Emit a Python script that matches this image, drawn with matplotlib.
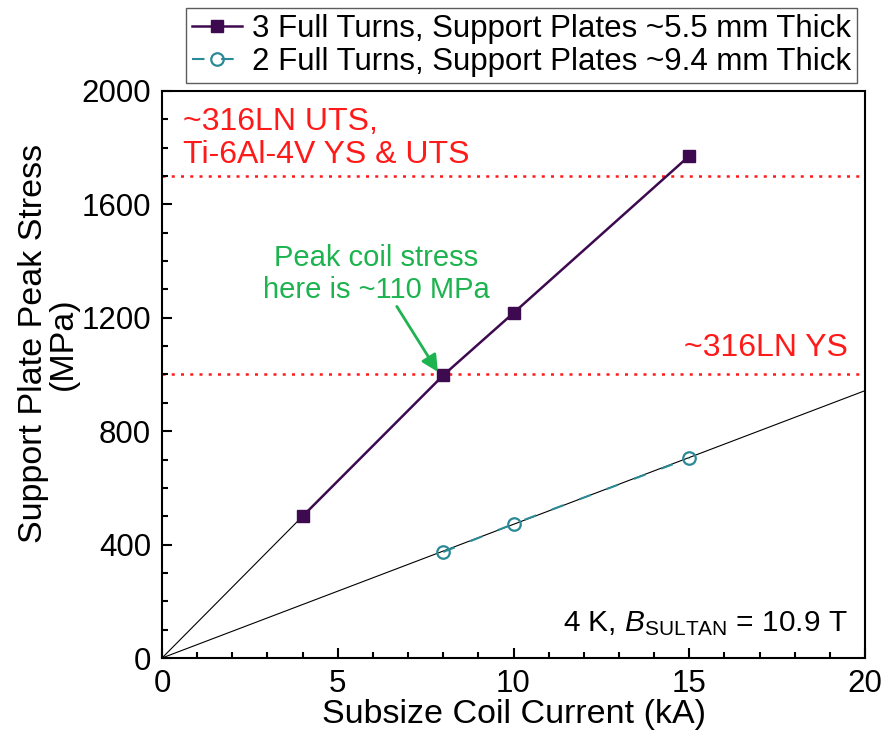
import numpy as np
from matplotlib import pyplot as plt
from matplotlib.ticker import MultipleLocator

plt.rcParams.update({
    "font.family": ['Liberation Sans', 'DejaVu Sans'],
    "font.size": 21,
    "mathtext.fontset": "custom",
    "mathtext.rm": "Liberation Sans",
    "mathtext.it": "Liberation Sans:italic",
})

# data
current_3t = [4, 8, 10, 15]
stress_3t = [500, 997, 1217, 1771]
current_2t = [8, 10, 15]
stress_2t = [374, 473, 705]

fit_x_3t = [0, 4]
fit_y_3t = [0, 500]
fit_x_2t = [0, 20]
fit_y_2t = [0, 943]

uts_level = 1700
ys_level = 1000

fig = plt.figure(figsize=(8.85, 7.38), dpi=100)
ax = fig.add_axes([162/885, 1 - 658/738, (865-162)/885, (658-91)/738])

ax.plot(fit_x_3t, fit_y_3t, c='k', lw=0.8, zorder=2)
ax.plot(fit_x_2t, fit_y_2t, c='k', lw=0.8, zorder=2)

ax.plot(current_3t, stress_3t, c='#3d0a4f', lw=1.8, marker='s', markersize=9,
        label='3 Full Turns, Support Plates ~5.5 mm Thick', zorder=3)
ax.plot(current_2t, stress_2t, c='#2a8a96', lw=1.5, ls=(0, (6, 8)), marker='o',
        markersize=9, mfc='none', mew=1.6,
        label='2 Full Turns, Support Plates ~9.4 mm Thick', zorder=3)

ax.axhline(uts_level, c='#ff1a1a', lw=1.8, ls=(0, (1.2, 2.5)), zorder=1)
ax.axhline(ys_level, c='#ff1a1a', lw=1.8, ls=(0, (1.2, 2.5)), zorder=1)

ax.text(0.6, 1945, '~316LN UTS,\nTi-6Al-4V YS & UTS', color='#ff1a1a', fontsize=23,
        va='top', linespacing=1.15)
ax.text(19.5, 1040, '~316LN YS', color='#ff1a1a', fontsize=23, ha='right', va='bottom')

ax.annotate('Peak coil stress\nhere is ~110 MPa', xy=(7.85, 1009), xytext=(6.1, 1250),
            color='#1db34f', fontsize=21, ha='center', va='bottom', linespacing=1.15,
            arrowprops=dict(arrowstyle='-|>', color='#1db34f', lw=2, mutation_scale=25,
                            shrinkA=0, shrinkB=0))

ax.text(19.5, 70, r'4 K, $\mathit{B}_{\mathrm{SULTAN}}$ = 10.9 T', fontsize=21.5,
        ha='right', va='bottom')

ax.set_xlim(0, 20)
ax.set_ylim(0, 2000)
ax.xaxis.set_major_locator(MultipleLocator(5))
ax.xaxis.set_minor_locator(MultipleLocator(1))
ax.yaxis.set_major_locator(MultipleLocator(400))
ax.yaxis.set_minor_locator(MultipleLocator(100))
ax.tick_params(which='both', direction='in', width=1.5, labelsize=22.5, pad=8)
ax.tick_params(which='major', length=7)
ax.tick_params(which='minor', length=4)
for s in ax.spines.values():
    s.set_linewidth(1.5)

ax.set_xlabel('Subsize Coil Current (kA)', fontsize=24.5, labelpad=0)
ax.set_ylabel('Support Plate Peak Stress\n(MPa)', fontsize=24.5, labelpad=2,
              linespacing=0.95)
ax.yaxis.label.set_y(0.555)

ax.legend(loc='lower right', bbox_to_anchor=(1.0, 1.0), fontsize=22.5, frameon=True,
          fancybox=False, edgecolor='#333333', borderpad=0.2, labelspacing=0.1,
          handlelength=1.6, handletextpad=0.3, borderaxespad=0.25)

fig.savefig('out.png', dpi=100)
